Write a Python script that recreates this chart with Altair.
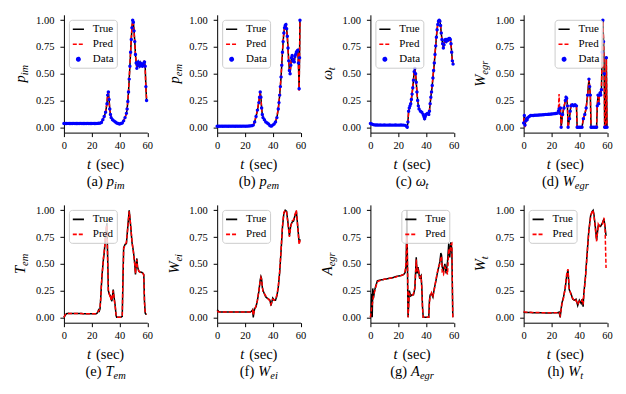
import altair as alt
import pandas as pd

# ---------------- data ----------------
# (a) p_im
PIM_T = [0, 1, 2, 3, 4, 5, 6, 7, 8, 9, 10, 11, 12, 13, 14, 15, 16, 17, 18, 19, 20, 21, 22, 23, 24, 25, 26,
         27, 28, 29, 30, 31, 31.5, 32, 32.5, 33, 33.5, 34, 35, 36, 37, 38, 39, 40, 41, 42, 43, 44, 45, 45.5,
         46, 46.5, 47, 47.5, 48, 48.5, 49, 49.5, 50, 50.5, 51, 51.5, 52, 52.5, 53, 53.5, 54, 54.5, 55, 55.5,
         56, 56.5, 57, 57.5, 58, 58.5, 59, 59.5]
PIM_TRUE = [0.036, 0.035, 0.035, 0.036, 0.035, 0.035, 0.035, 0.036, 0.035, 0.035, 0.035, 0.035, 0.036, 0.035, 0.035, 0.035, 0.035, 0.036, 0.035, 0.035, 0.035, 0.036, 0.035, 0.035, 0.036, 0.037, 0.038,
            0.045, 0.07, 0.10, 0.14, 0.22, 0.30, 0.33, 0.26, 0.17, 0.12, 0.09, 0.07, 0.06, 0.05, 0.04, 0.035, 0.03, 0.035, 0.04, 0.06, 0.09, 0.13, 0.17,
            0.24, 0.33, 0.45, 0.57, 0.70, 0.82, 0.93, 1.00, 0.98, 0.90, 0.80, 0.68, 0.60, 0.55, 0.58, 0.61, 0.59, 0.57, 0.60, 0.58,
            0.59, 0.57, 0.58, 0.60, 0.61, 0.57, 0.38, 0.25]
PIM_PRED = [0.035, 0.035, 0.035, 0.035, 0.035, 0.036, 0.035, 0.035, 0.035, 0.036, 0.035, 0.035, 0.035, 0.035, 0.036, 0.035, 0.035, 0.035, 0.035, 0.035, 0.036, 0.035, 0.035, 0.035, 0.036, 0.037, 0.039,
            0.046, 0.07, 0.10, 0.15, 0.23, 0.31, 0.32, 0.25, 0.17, 0.12, 0.09, 0.07, 0.06, 0.05, 0.04, 0.035, 0.032, 0.036, 0.04, 0.06, 0.09, 0.13, 0.18,
            0.25, 0.34, 0.46, 0.58, 0.71, 0.83, 0.94, 0.99, 0.97, 0.89, 0.79, 0.67, 0.61, 0.56, 0.59, 0.60, 0.58, 0.58, 0.59, 0.59,
            0.58, 0.58, 0.57, 0.61, 0.60, 0.55, 0.36, 0.27]

# (b) p_em
PEM_T = [0, 1, 2, 3, 4, 5, 6, 7, 8, 9, 10, 11, 12, 13, 14, 15, 16, 17, 18, 19, 20, 21, 22, 23, 24, 25,
         26, 27, 28, 29, 30, 30.5, 31, 31.5, 32, 32.5, 33, 34, 35, 36, 37, 38, 39, 40, 41, 42, 43,
         44, 44.5, 45, 45.5, 46, 46.5, 47, 47.5, 48, 48.5, 49, 49.5, 50, 50.5, 51, 51.5, 52, 52.5, 53, 53.5,
         54, 54.5, 55, 55.5, 56, 56.5, 57, 57.5, 58, 58.5, 59, 59.3, 59.6]
PEM_TRUE = [0.010, 0.009, 0.010, 0.010, 0.009, 0.010, 0.010, 0.010, 0.009, 0.010, 0.010, 0.010, 0.010, 0.009, 0.010, 0.010, 0.010, 0.010, 0.010, 0.011, 0.010, 0.010, 0.011, 0.012, 0.013, 0.015,
            0.02, 0.05, 0.10, 0.16, 0.23, 0.28, 0.33, 0.28, 0.18, 0.12, 0.09, 0.07, 0.05, 0.04, 0.03, 0.015, 0.01, 0.02, 0.03, 0.05, 0.09,
            0.17, 0.23, 0.30, 0.38, 0.47, 0.58, 0.70, 0.80, 0.88, 0.93, 0.95, 0.96, 0.92, 0.85, 0.74, 0.62, 0.53, 0.50, 0.58, 0.65,
            0.67, 0.62, 0.63, 0.61, 0.66, 0.68, 0.70, 0.71, 0.72, 0.60, 0.36, 0.65, 1.00]
PEM_PRED = [0.011, 0.010, 0.010, 0.009, 0.010, 0.010, 0.009, 0.010, 0.010, 0.010, 0.010, 0.011, 0.010, 0.010, 0.010, 0.009, 0.010, 0.010, 0.011, 0.010, 0.010, 0.011, 0.011, 0.012, 0.014, 0.016,
            0.02, 0.06, 0.10, 0.17, 0.24, 0.29, 0.32, 0.27, 0.17, 0.12, 0.09, 0.07, 0.05, 0.04, 0.03, 0.016, 0.012, 0.02, 0.03, 0.05, 0.10,
            0.18, 0.24, 0.31, 0.39, 0.48, 0.59, 0.71, 0.81, 0.89, 0.92, 0.94, 0.95, 0.91, 0.84, 0.73, 0.61, 0.52, 0.49, 0.59, 0.66,
            0.66, 0.63, 0.62, 0.62, 0.65, 0.69, 0.71, 0.70, 0.72, 0.58, 0.34, 0.66, 1.00]

# (c) omega_t
OMG_T = [0, 1, 2, 3, 4, 5, 6, 7, 8, 9, 10, 11, 12, 13, 14, 15, 16, 17, 18, 19, 20, 21, 22, 23, 24, 25,
         26, 26.5, 27, 27.5, 28, 28.5, 29, 29.5, 30, 30.5, 31, 31.5, 32, 32.5, 33, 33.5, 34, 34.5, 35, 36,
         37, 38, 38.5, 39, 39.5, 40, 41, 42, 42.5, 43, 43.5, 44, 44.5, 45, 45.5, 46, 46.5, 47, 47.5, 48,
         48.5, 49, 49.5, 50, 50.5, 51, 51.5, 52, 52.5, 53, 53.5, 54, 54.5, 55, 55.5, 56, 56.5, 57, 57.5, 58,
         58.5, 59, 59.5]
OMG_TRUE = [0.035, 0.03, 0.025, 0.022, 0.021, 0.021, 0.02, 0.021, 0.02, 0.02, 0.021, 0.02, 0.02, 0.02, 0.021, 0.02, 0.02, 0.02, 0.021, 0.02, 0.02, 0.02, 0.021, 0.02, 0.02, 0.018,
            0.01, 0.0, 0.05, 0.15, 0.18, 0.20, 0.22, 0.26, 0.31, 0.37, 0.44, 0.52, 0.55, 0.50, 0.42, 0.33, 0.25, 0.20, 0.17, 0.15,
            0.14, 0.12, 0.10, 0.08, 0.10, 0.12, 0.13, 0.12, 0.15, 0.22, 0.28, 0.33, 0.39, 0.46, 0.53, 0.60, 0.68, 0.76, 0.84, 0.91,
            0.96, 0.99, 1.00, 0.99, 0.95, 0.88, 0.82, 0.78, 0.74, 0.77, 0.81, 0.82, 0.80, 0.82, 0.81, 0.82, 0.83, 0.83, 0.82, 0.78,
            0.70, 0.62, 0.59]
OMG_PRED = [0.036, 0.03, 0.025, 0.022, 0.021, 0.021, 0.021, 0.021, 0.02, 0.02, 0.021, 0.02, 0.021, 0.02, 0.021, 0.02, 0.02, 0.021, 0.021, 0.02, 0.02, 0.021, 0.021, 0.02, 0.02, 0.019,
            0.012, 0.002, 0.05, 0.14, 0.18, 0.20, 0.23, 0.27, 0.32, 0.38, 0.45, 0.51, 0.54, 0.49, 0.41, 0.32, 0.25, 0.20, 0.17, 0.15,
            0.14, 0.12, 0.10, 0.09, 0.10, 0.12, 0.13, 0.12, 0.16, 0.22, 0.29, 0.34, 0.40, 0.47, 0.54, 0.61, 0.69, 0.77, 0.85, 0.92,
            0.96, 0.99, 0.99, 0.98, 0.94, 0.87, 0.81, 0.77, 0.75, 0.78, 0.80, 0.81, 0.81, 0.82, 0.82, 0.81, 0.83, 0.82, 0.81, 0.76,
            0.68, 0.61, 0.60]

# (d) W_egr
WEGR_T = [0, 0.5, 1, 1.5, 2, 2.5, 3, 4, 5, 6, 7, 8, 9, 10, 11, 12, 13, 14, 15, 16, 17, 18, 19, 20, 21, 22, 23, 24,
          25, 25.5, 26, 26.5, 27, 28, 29, 30, 30.5, 31, 31.5, 32, 33, 33.5, 34, 35, 36, 37, 38, 38.5,
          39, 40, 41, 42, 43, 44, 45, 46, 47, 47.5, 48, 48.5, 49, 50, 51, 52, 52.5, 53, 53.5, 54,
          54.5, 55, 55.5, 56, 56.5, 57, 57.5, 58, 58.3, 59, 59.5, 60]
WEGR_TRUE = [0.04, 0.11, 0.02, 0.06, 0.08, 0.07, 0.09, 0.10, 0.11, 0.11, 0.11, 0.112, 0.113, 0.113, 0.115, 0.115, 0.116, 0.117, 0.118, 0.12, 0.12, 0.121, 0.122, 0.124, 0.125, 0.127, 0.128, 0.13,
             0.15, 0.17, 0.13, 0.18, 0.0, 0.12, 0.18, 0.25, 0.28, 0.27, 0.20, 0.0, 0.08, 0.15, 0.20, 0.21, 0.20, 0.21, 0.20, 0.0,
             0.0, 0.0, 0.0, 0.0, 0.08, 0.12, 0.18, 0.30, 0.45, 0.38, 0.30, 0.0, 0.0, 0.0, 0.0, 0.0, 0.0, 0.20, 0.30, 0.22,
             0.30, 0.32, 0.30, 0.35, 0.70, 1.00, 0.80, 0.50, 0.0, 0.0, 0.65, 0.0]
WEGR_PRED = [0.05, 0.09, 0.0, 0.07, 0.08, 0.08, 0.09, 0.10, 0.11, 0.11, 0.11, 0.112, 0.113, 0.114, 0.115, 0.115, 0.116, 0.117, 0.118, 0.12, 0.12, 0.121, 0.122, 0.124, 0.125, 0.127, 0.128, 0.13,
             0.16, 0.31, 0.12, 0.16, 0.0, 0.13, 0.20, 0.24, 0.29, 0.26, 0.21, 0.0, 0.09, 0.14, 0.21, 0.20, 0.21, 0.20, 0.21, 0.0,
             0.0, 0.0, 0.0, 0.0, 0.09, 0.11, 0.19, 0.29, 0.44, 0.39, 0.29, 0.0, 0.0, 0.0, 0.0, 0.0, 0.0, 0.21, 0.29, 0.23,
             0.29, 0.33, 0.31, 0.36, 0.72, 0.99, 0.82, 0.48, 0.0, 0.0, 0.66, 0.0]

# (e) T_em
TEM_T = [0, 1, 2, 3, 5, 8, 12, 16, 20, 23, 24, 25, 25.5, 26, 26.5, 27, 27.5, 28, 28.5, 29,
         29.5, 30, 30.5, 31, 31.5, 32, 32.5, 33, 33.5, 34, 34.5, 35, 35.5, 36, 36.5, 37, 37.5, 38, 39, 40,
         41, 42, 42.5, 43, 44, 45, 46, 47, 48, 49, 50, 51, 51.5, 52, 52.5, 53, 54, 55, 56, 57,
         57.5, 58, 58.5, 59, 59.5]
TEM_TRUE = [0.0, 0.02, 0.035, 0.037, 0.035, 0.036, 0.035, 0.034, 0.034, 0.033, 0.04, 0.07, 0.06, 0.08, 0.18, 0.30, 0.40, 0.48, 0.55, 0.60,
            0.68, 0.76, 0.83, 0.88, 0.55, 0.25, 0.22, 0.21, 0.20, 0.17, 0.15, 0.20, 0.26, 0.20, 0.15, 0.10, 0.02, 0.0, 0.0, 0.0,
            0.0, 0.01, 0.35, 0.65, 0.68, 0.69, 0.85, 1.00, 0.86, 0.70, 0.62, 0.50, 0.40, 0.48, 0.55, 0.47, 0.43, 0.42, 0.42, 0.41,
            0.40, 0.15, 0.04, 0.03, 0.03]
TEM_PRED = [0.0, 0.025, 0.034, 0.036, 0.035, 0.035, 0.035, 0.034, 0.034, 0.034, 0.045, 0.06, 0.07, 0.09, 0.17, 0.31, 0.41, 0.47, 0.56, 0.61,
            0.69, 0.77, 0.84, 0.86, 0.52, 0.24, 0.23, 0.20, 0.21, 0.16, 0.16, 0.21, 0.25, 0.19, 0.14, 0.09, 0.03, 0.0, 0.0, 0.0,
            0.0, 0.02, 0.36, 0.64, 0.68, 0.70, 0.84, 0.99, 0.87, 0.71, 0.61, 0.49, 0.41, 0.49, 0.54, 0.46, 0.43, 0.42, 0.41, 0.41,
            0.39, 0.14, 0.05, 0.03, 0.03]

# (f) W_ei
WEI_T = [0, 1, 2, 4, 8, 12, 16, 20, 24, 25, 25.5, 26, 26.5, 27, 28, 29, 30, 31, 31.5, 32,
         32.5, 33, 34, 35, 36, 37, 38, 38.7, 39.3, 40, 41, 42, 43, 44, 45, 46, 47, 48, 49, 50,
         51, 52, 53, 54, 55, 56, 57, 58, 59, 59.7]
WEI_TRUE = [0.07, 0.055, 0.05, 0.05, 0.05, 0.05, 0.05, 0.05, 0.05, 0.06, 0.07, 0.0, 0.05, 0.08, 0.10, 0.16, 0.24, 0.35, 0.38, 0.36,
            0.28, 0.25, 0.22, 0.19, 0.18, 0.17, 0.16, 0.11, 0.14, 0.18, 0.16, 0.16, 0.20, 0.28, 0.42, 0.62, 0.84, 0.97, 1.00, 0.99,
            0.88, 0.76, 0.86, 0.89, 0.90, 0.95, 0.99, 0.85, 0.70, 0.73]
WEI_PRED = [0.06, 0.05, 0.05, 0.05, 0.05, 0.05, 0.05, 0.05, 0.05, 0.055, 0.065, 0.02, 0.05, 0.07, 0.11, 0.16, 0.25, 0.34, 0.37, 0.35,
            0.29, 0.24, 0.22, 0.20, 0.18, 0.17, 0.15, 0.12, 0.14, 0.17, 0.16, 0.17, 0.21, 0.29, 0.43, 0.63, 0.85, 0.98, 1.00, 0.98,
            0.87, 0.75, 0.85, 0.90, 0.91, 0.96, 1.00, 0.84, 0.68, 0.72]

# (g) A_egr
AEGR_T = [0, 0.5, 1, 1.3, 1.7, 2.2, 3, 4, 5, 6, 8, 10, 12, 14, 16, 18, 20, 22, 24, 25,
          25.7, 26.3, 26.8, 27.1, 28, 29, 30, 31, 32, 33, 33.6, 34.3, 35, 35.5, 36, 36.5, 37, 37.5, 38, 39,
          40, 41, 42, 42.5, 43, 44, 45, 46, 47, 48, 49, 50, 50.7, 51.2, 51.7, 52.6, 53.6, 54.5, 55.5, 56.4,
          57.1, 57.9, 58.6, 59.3]
AEGR_TRUE = [0.0, 0.02, 0.22, 0.0, 0.27, 0.18, 0.25, 0.30, 0.34, 0.345, 0.35, 0.355, 0.36, 0.365, 0.37, 0.38, 0.385, 0.39, 0.40, 0.42,
             0.48, 1.00, 0.30, 0.0, 0.25, 0.20, 0.21, 0.21, 0.27, 0.56, 0.41, 0.47, 0.40, 0.36, 0.38, 0.39, 0.28, 0.10, 0.0, 0.0,
             0.0, 0.0, 0.0, 0.16, 0.21, 0.22, 0.19, 0.27, 0.33, 0.40, 0.46, 0.52, 0.60, 0.58, 0.47, 0.44, 0.50, 0.41, 0.52, 0.69,
             0.56, 0.70, 0.64, 0.0]
AEGR_PRED = [0.0, 0.05, 0.10, 0.12, 0.15, 0.20, 0.24, 0.29, 0.33, 0.34, 0.35, 0.355, 0.36, 0.365, 0.37, 0.375, 0.385, 0.39, 0.40, 0.43,
             0.52, 0.75, 0.45, 0.0, 0.22, 0.20, 0.20, 0.22, 0.28, 0.54, 0.43, 0.46, 0.41, 0.37, 0.37, 0.38, 0.27, 0.09, 0.0, 0.0,
             0.0, 0.0, 0.0, 0.14, 0.19, 0.23, 0.20, 0.26, 0.34, 0.41, 0.47, 0.50, 0.56, 0.57, 0.42, 0.40, 0.47, 0.45, 0.40, 0.64,
             0.60, 0.68, 0.69, 0.0]

# (h) W_t
WT_T = [0, 1, 3, 6, 10, 14, 18, 22, 24, 25, 25.5, 26.3, 27, 27.5, 28.7, 29.9, 31.1, 31.9, 32.8, 34.1,
        35.3, 36.5, 37.7, 38.9, 40.1, 41.4, 42.1, 42.8, 43.3, 44.5, 45.7, 46.9, 48.2, 49.4, 50, 50.6, 51.8, 52.5, 53.7, 54.5,
        55.4, 56.6, 57.8, 58.6, 59.3]
WT_TRUE = [0.05, 0.045, 0.045, 0.044, 0.043, 0.042, 0.041, 0.042, 0.043, 0.045, 0.05, 0.0, 0.08, 0.13, 0.19, 0.27, 0.40, 0.44, 0.26, 0.22,
           0.17, 0.16, 0.17, 0.11, 0.16, 0.13, 0.17, 0.10, 0.22, 0.38, 0.60, 0.81, 0.95, 0.99, 1.00, 0.96, 0.82, 0.72, 0.86, 0.86,
           0.85, 0.88, 0.92, 0.84, 0.76]
WT_PRED = [0.055, 0.05, 0.048, 0.046, 0.045, 0.043, 0.042, 0.043, 0.044, 0.046, 0.05, 0.02, 0.07, 0.12, 0.18, 0.28, 0.42, 0.45, 0.27, 0.21,
           0.18, 0.15, 0.16, 0.12, 0.15, 0.14, 0.16, 0.12, 0.21, 0.37, 0.59, 0.80, 0.94, 1.00, 0.99, 0.95, 0.80, 0.71, 0.87, 0.85,
           0.86, 0.87, 0.93, 0.83, 0.46]

X_TICKS = [0, 20, 40, 60]
Y_TICKS = [0, 0.25, 0.5, 0.75, 1.0]
SERIES = ["True", "Pred", "Data"]
SERIES_COLORS = ["black", "red", "blue"]
SERIES_DASH = [[1, 0], [4, 2], [1, 0]]

# ---------------- styling ----------------
FONT = "Liberation Serif"
PW, PH = 83.5, 118
LAB_FS = 14.5
SUB_FS = 10.5
SUB_DY = 3
SYM = 125  # legend symbol size (stroke length ~ sqrt(SYM))
DOT_PATH = "M -0.3 0 A 0.3 0.3 0 1 1 0.3 0 A 0.3 0.3 0 1 1 -0.3 0 Z"

ROMAN_W = {'(': 0.333, ')': 0.333, ' ': 0.25, 'a': 0.444, 'b': 0.5, 'c': 0.444, 'd': 0.5,
           'e': 0.444, 'f': 0.333, 'g': 0.5, 'h': 0.5, 's': 0.389}
ITALIC_W = {'p': 0.5, 't': 0.278, 'T': 0.556, 'W': 0.833, 'A': 0.611, 'ω': 0.67, 'i': 0.278,
            'm': 0.722, 'e': 0.444, 'g': 0.5, 'r': 0.389}


def text_width(s, italic, size):
    table = ITALIC_W if italic else ROMAN_W
    return sum(table.get(ch, 0.5) for ch in s) * size


def label_layers(segments, ax, ay, angle=0):
    # segments: (text, italic, size, dy, gap_before)
    total = sum(gap + text_width(s, it, fs) for s, it, fs, dy, gap in segments)
    if angle:
        x0, y0 = ax, ay + total / 2
    else:
        x0, y0 = ax - total / 2, ay
    one = pd.DataFrame({"k": [0]})
    out = []
    off = 0.0
    for s, it, fs, dy, gap in segments:
        off += gap
        props = dict(text=s, font=FONT, fontSize=fs, fontStyle="italic" if it else "normal",
                     align="left", baseline="alphabetic", dx=off, dy=dy, color="black")
        if angle:
            props["angle"] = angle
        out.append(alt.Chart(one).mark_text(**props).encode(x=alt.value(x0), y=alt.value(y0)))
        off += text_width(s, it, fs)
    return out


def make_legend(orient):
    return alt.Legend(title=None, orient=orient, offset=4.5, padding=3, cornerRadius=3,
                      strokeColor="#cccccc", fillColor="rgba(255,255,255,0.8)",
                      labelFont=FONT, labelFontSize=11, labelColor="black",
                      rowPadding=3, labelOffset=8, symbolType="stroke", symbolSize=SYM,
                      symbolStrokeWidth=1.6, symbolOpacity=1)


def panel(letter, sym, sub, t, true, pred, with_data, orient):
    n = 3 if with_data else 2
    leg = make_legend(orient)
    col = alt.Color("series:N", scale=alt.Scale(domain=SERIES[:n], range=SERIES_COLORS[:n]), legend=leg)
    dash = alt.StrokeDash("series:N", scale=alt.Scale(domain=SERIES[:n], range=SERIES_DASH[:n]), legend=leg)
    xenc = alt.X("t:Q", scale=alt.Scale(domain=[0, 60], nice=False, zero=False),
                 axis=alt.Axis(values=X_TICKS, format="d", title=None, labelFlush=False, labelPadding=4))
    yenc = alt.Y("v:Q", scale=alt.Scale(domain=[-0.05, 1.05], nice=False, zero=False),
                 axis=alt.Axis(values=Y_TICKS, format=".2f", title=None, labelPadding=6))
    df_true = pd.DataFrame({"t": t, "v": true, "series": "True"})
    df_pred = pd.DataFrame({"t": t, "v": pred, "series": "Pred"})
    layers = [
        alt.Chart(df_true).mark_line(strokeWidth=1.5).encode(x=xenc, y=yenc, color=col, strokeDash=dash),
        alt.Chart(df_pred).mark_line(strokeWidth=1.5).encode(x=xenc, y=yenc, color=col, strokeDash=dash),
    ]
    if with_data:
        shp = alt.Shape("series:N", scale=alt.Scale(domain=SERIES, range=["stroke", "stroke", DOT_PATH]), legend=leg)
        df_data = pd.DataFrame({"t": t, "v": true, "series": "Data"})
        layers.append(alt.Chart(df_data).mark_point(filled=True, size=SYM, opacity=1, strokeWidth=0)
                      .encode(x=xenc, y=yenc, color=col, shape=shp))
    layers += label_layers([(sym, True, LAB_FS, 0, 0), (sub, True, SUB_FS, SUB_DY, 0)], -38.5, PH / 2, angle=270)
    layers += label_layers([("t", True, LAB_FS, 0, 0), ("(sec)", False, LAB_FS, 0, 5)], PW / 2, 154)
    layers += label_layers([(f"({letter})", False, LAB_FS, 0, 0), (sym, True, LAB_FS, 0, 4),
                            (sub, True, SUB_FS, SUB_DY, 0)], PW / 2, 171)
    return alt.layer(*layers).properties(width=PW, height=PH)


panels = [
    panel("a", "p", "im", PIM_T, PIM_TRUE, PIM_PRED, True, "top-left"),
    panel("b", "p", "em", PEM_T, PEM_TRUE, PEM_PRED, True, "top-left"),
    panel("c", "ω", "t", OMG_T, OMG_TRUE, OMG_PRED, True, "top-left"),
    panel("d", "W", "egr", WEGR_T, WEGR_TRUE, WEGR_PRED, True, "top-right"),
    panel("e", "T", "em", TEM_T, TEM_TRUE, TEM_PRED, False, "top-left"),
    panel("f", "W", "ei", WEI_T, WEI_TRUE, WEI_PRED, False, "top-left"),
    panel("g", "A", "egr", AEGR_T, AEGR_TRUE, AEGR_PRED, False, "top-right"),
    panel("h", "W", "t", WT_T, WT_TRUE, WT_PRED, False, "top-left"),
]

chart = (
    alt.concat(*panels, columns=4, spacing={"row": 72.4, "column": 69.5}, bounds="flush")
    .resolve_scale(color="independent", strokeDash="independent", shape="independent")
    .properties(padding={"left": 5, "top": 6.5, "right": 5, "bottom": 5})
    .configure(font=FONT)
    .configure_view(stroke=None)
    .configure_axis(domainColor="black", domainWidth=1, tickColor="black", tickWidth=1, tickSize=4,
                    labelFont=FONT, labelFontSize=10.5, labelColor="black", grid=False)
    .configure_legend(labelFont=FONT, labelFontSize=11, labelColor="black")
)

chart.save("out.html", embed_options={"renderer": "svg", "actions": False})
